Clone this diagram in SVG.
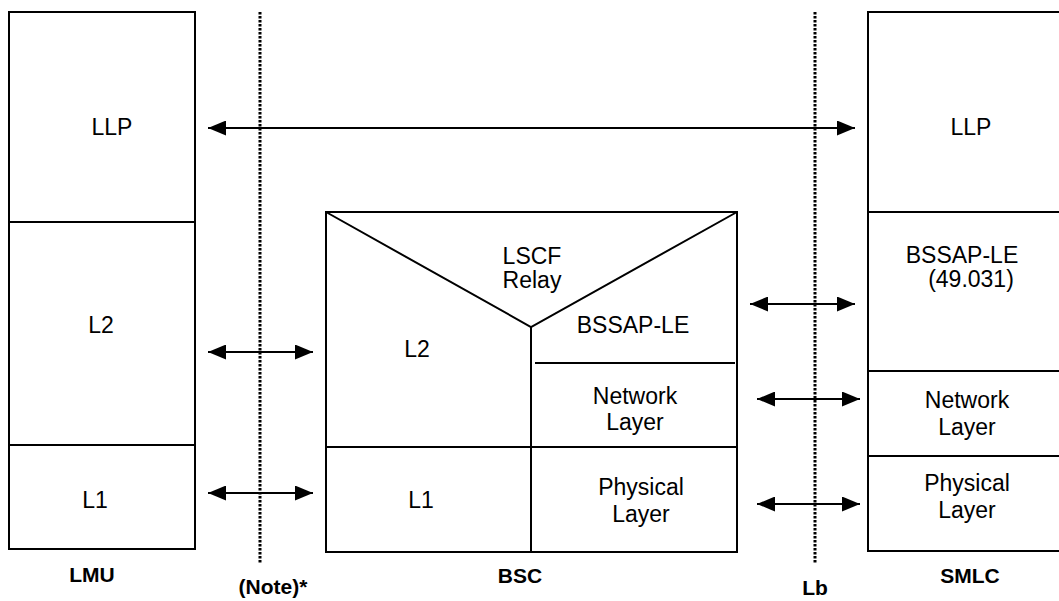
<svg xmlns="http://www.w3.org/2000/svg" width="1059" height="601" viewBox="0 0 1059 601">
<style>
.box{fill:#fff;stroke:#000;stroke-width:2}
.ln{fill:none;stroke:#000;stroke-width:2}
.dot{fill:none;stroke:#000;stroke-width:3;stroke-dasharray:2.5 1.5}
.t{font-family:"Liberation Sans",Arial,sans-serif;font-size:23px;text-anchor:middle;fill:#000}
.b{font-family:"Liberation Sans",Arial,sans-serif;font-size:21px;font-weight:bold;text-anchor:middle;fill:#000}
.arr{fill:none;stroke:#000;stroke-width:2;marker-start:url(#ah);marker-end:url(#ah)}
</style>
<defs>
<marker id="ah" markerUnits="userSpaceOnUse" markerWidth="18" markerHeight="15" refX="18" refY="7.5" orient="auto-start-reverse" viewBox="0 0 18 15">
<path d="M0,0 L18,7.5 L0,15 z" fill="#000"/>
</marker>
</defs>
<rect width="1059" height="601" fill="#fff"/>

<g id="interfaces">
<line class="dot" x1="260" y1="12" x2="260" y2="563"/>
<line class="dot" x1="815" y1="12" x2="815" y2="563"/>
</g>

<g id="LMU">
<rect class="box" x="9" y="12" width="186" height="537"/>
<line class="ln" x1="9" y1="222" x2="195" y2="222"/>
<line class="ln" x1="9" y1="445" x2="195" y2="445"/>
<text class="t" x="112" y="135">LLP</text>
<text class="t" x="101" y="333">L2</text>
<text class="t" x="95" y="508">L1</text>
<text class="b" x="92" y="582">LMU</text>
</g>

<g id="BSC">
<rect class="box" x="326" y="212" width="411" height="340"/>
<polyline class="ln" points="326,212 531,327 737,212"/>
<line class="ln" x1="531" y1="327" x2="531" y2="552"/>
<line class="ln" x1="326" y1="447" x2="737" y2="447"/>
<line class="ln" x1="535" y1="363" x2="735" y2="363"/>
<text class="t" x="532" y="264">LSCF</text>
<text class="t" x="532" y="288">Relay</text>
<text class="t" x="633" y="333">BSSAP-LE</text>
<text class="t" x="417" y="357">L2</text>
<text class="t" x="635" y="404">Network</text>
<text class="t" x="635" y="430">Layer</text>
<text class="t" x="421" y="508">L1</text>
<text class="t" x="641" y="495">Physical</text>
<text class="t" x="641" y="522">Layer</text>
<text class="b" x="520" y="583">BSC</text>
</g>

<g id="SMLC">
<rect class="box" x="868" y="12" width="196" height="539"/>
<line class="ln" x1="868" y1="212" x2="1064" y2="212"/>
<line class="ln" x1="868" y1="371" x2="1064" y2="371"/>
<line class="ln" x1="868" y1="456" x2="1064" y2="456"/>
<text class="t" x="971" y="135">LLP</text>
<text class="t" x="962" y="263">BSSAP-LE</text>
<text class="t" x="971" y="287">(49.031)</text>
<text class="t" x="967" y="408">Network</text>
<text class="t" x="967" y="435">Layer</text>
<text class="t" x="967" y="491">Physical</text>
<text class="t" x="967" y="518">Layer</text>
<text class="b" x="970" y="583">SMLC</text>
</g>

<g id="labels">
<text class="b" x="273" y="594">(Note)*</text>
<text class="b" x="815" y="595">Lb</text>
</g>

<g id="connectors">
<line class="arr" x1="208" y1="128" x2="855" y2="128"/>
<line class="arr" x1="208" y1="352" x2="313" y2="352"/>
<line class="arr" x1="208" y1="493" x2="313" y2="493"/>
<line class="arr" x1="750" y1="304" x2="855" y2="304"/>
<line class="arr" x1="757" y1="399" x2="860" y2="399"/>
<line class="arr" x1="757" y1="504" x2="860" y2="504"/>
</g>
</svg>
